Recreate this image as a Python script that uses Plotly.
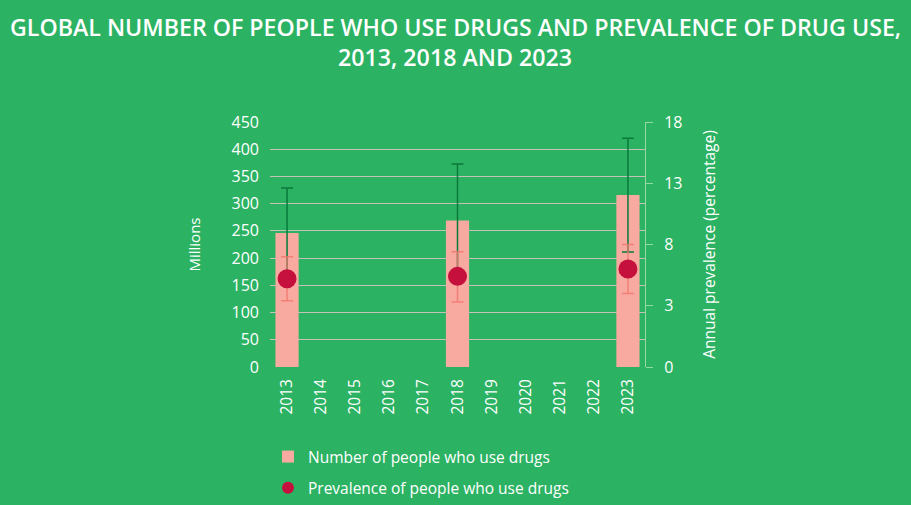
import plotly.graph_objects as go

years = [str(y) for y in range(2013, 2024)]
data_years = ["2013", "2018", "2023"]
people = [246, 269, 316]
people_low = [165, 166, 211]
people_high = [329, 373, 420]
prev = [5.2, 5.4, 6.0]
prev_low = [3.4, 3.3, 4.0]
prev_high = [7.0, 7.4, 8.0]
left_ticks = [0, 50, 100, 150, 200, 250, 300, 350, 400, 450]
right_tickvals = [-2, 3, 8, 13, 18]
right_ticktext = ["0", "3", "8", "13", "18"]
title_lines = ["GLOBAL NUMBER OF PEOPLE WHO USE DRUGS AND PREVALENCE OF DRUG USE,",
               "2013, 2018 AND 2023"]

BG = "#2bb262"
FONT = "Open Sans"
PLOT_TOP, PLOT_BOT = 122, 367
PLOT_L, PLOT_R = 270, 645
PH = PLOT_BOT - PLOT_TOP
PW = PLOT_R - PLOT_L


def py(p):
    return (PLOT_BOT - p) / PH


def px(p):
    return (p - PLOT_L) / PW


fig = go.Figure()
fig.add_trace(go.Bar(
    x=data_years, y=people, name="Number of people who use drugs",
    legendgroup="a",
    marker=dict(color="#f9aaa0", line=dict(width=0)), width=0.68,
    error_y=dict(type="data", symmetric=False,
                 array=[h - v for h, v in zip(people_high, people)],
                 arrayminus=[v - l for v, l in zip(people, people_low)],
                 color="#0b7a3a", thickness=1.5, width=6),
    yaxis="y",
))
fig.add_trace(go.Scatter(
    x=data_years, y=prev, mode="markers", name="Prevalence of people who use drugs",
    legendgroup="b",
    marker=dict(color="#c50f3c", size=19),
    error_y=dict(type="data", symmetric=False,
                 array=[h - v for h, v in zip(prev_high, prev)],
                 arrayminus=[v - l for v, l in zip(prev, prev_low)],
                 color="rgba(240,120,110,0.85)", thickness=1.5, width=6),
    yaxis="y2",
))

for txt, yp in zip(title_lines, [27, 57]):
    fig.add_annotation(
        text=txt, xref="paper", yref="paper", x=px(455),
        y=py(yp), xanchor="center", yanchor="middle", showarrow=False,
        font=dict(family=FONT, size=23.2, color="white", weight=600),
    )

fig.update_layout(
    width=911, height=505,
    paper_bgcolor=BG, plot_bgcolor=BG,
    margin=dict(l=PLOT_L, r=911 - PLOT_R, t=PLOT_TOP, b=505 - PLOT_BOT, autoexpand=False),
    font=dict(family=FONT, color="white", size=15),
    xaxis=dict(
        type="category", categoryorder="array", categoryarray=years,
        range=[-0.5, 10.5], tickangle=-90, showgrid=False, zeroline=False,
        tickfont=dict(size=15.5, color="white"), ticks="", showline=False,
        ticklabelstandoff=8,
    ),
    yaxis=dict(
        range=[0, 450], tickvals=left_ticks, showgrid=True,
        gridcolor="#c6c2ba", gridwidth=1, zeroline=False,
        tickfont=dict(size=16, color="white"), ticks="",
        ticklabelstandoff=10,
        title=dict(text="Millions", font=dict(size=15, color="white"), standoff=27),
    ),
    yaxis2=dict(
        overlaying="y", side="right", range=[-2, 18],
        tickvals=right_tickvals, ticktext=right_ticktext,
        showgrid=False, zeroline=False, showline=True,
        linecolor="rgba(160,220,170,0.9)", linewidth=1,
        ticks="outside", ticklen=7, tickcolor="rgba(160,220,170,0.9)",
        tickfont=dict(size=16, color="white"), ticklabelstandoff=8,
        title=dict(text="Annual prevalence (percentage)", font=dict(size=15.5, color="white"), standoff=22),
    ),
    legend=dict(
        x=px(268), xanchor="left", y=py(440), yanchor="top",
        font=dict(size=15.5, color="white"), bgcolor="rgba(0,0,0,0)",
        itemsizing="constant", tracegroupgap=8,
    ),
)
fig.write_html("out.html")
